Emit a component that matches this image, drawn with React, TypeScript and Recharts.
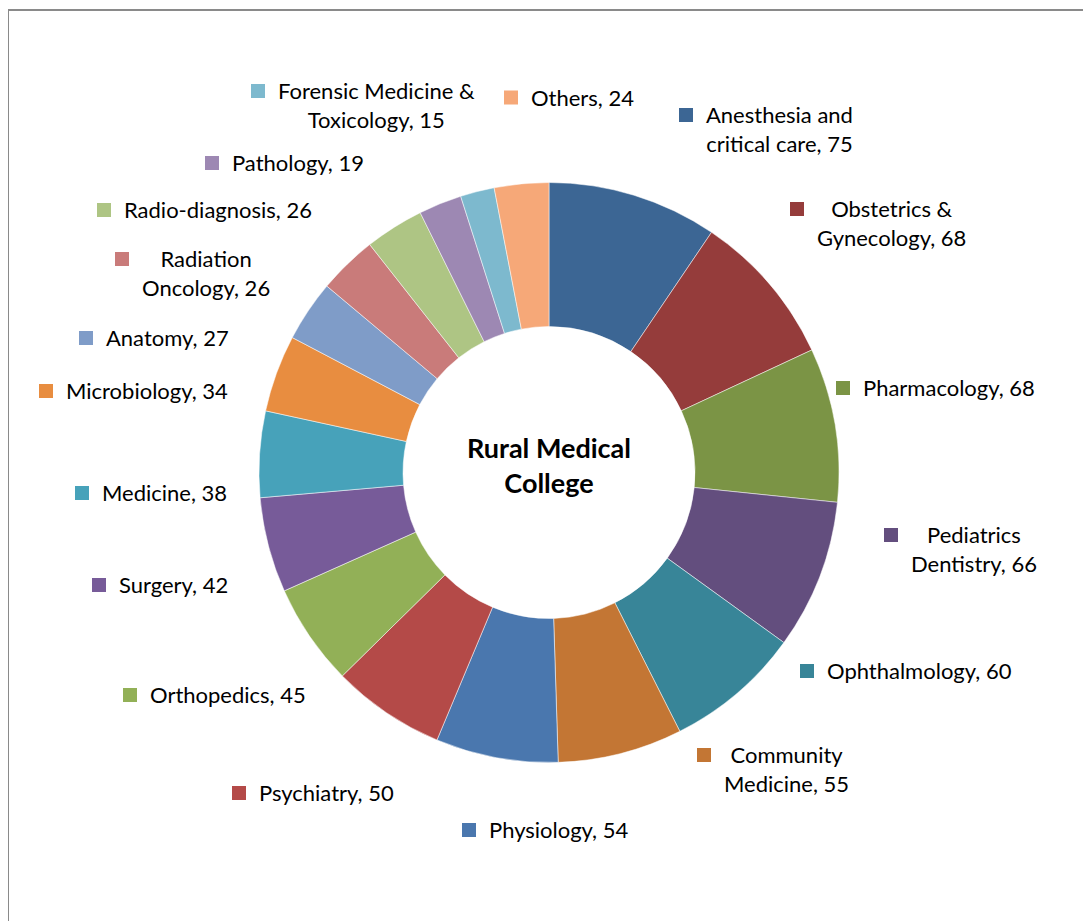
import { PieChart, Pie, Cell } from "recharts"

const departments = [
  "Anesthesia and critical care",
  "Obstetrics & Gynecology",
  "Pharmacology",
  "Pediatrics Dentistry",
  "Ophthalmology",
  "Community Medicine",
  "Physiology",
  "Psychiatry",
  "Orthopedics",
  "Surgery",
  "Medicine",
  "Microbiology",
  "Anatomy",
  "Radiation Oncology",
  "Radio-diagnosis",
  "Pathology",
  "Forensic Medicine & Toxicology",
  "Others",
]

const students = [75, 68, 68, 66, 60, 55, 54, 50, 45, 42, 38, 34, 27, 26, 26, 19, 15, 24]

const sliceColors = [
  "#3c6694", "#953c3b", "#7b9445", "#634e7e", "#388598", "#c37634",
  "#4a77ae", "#b44a48", "#92b057", "#775b99", "#47a2ba", "#e88d40",
  "#7f9cc8", "#c97b7a", "#aec584", "#9d88b3", "#7db9ce", "#f6a878",
]

const titleLines = ["Rural Medical", "College"]

// where each label's colour square sits, relative to the pie centre,
// and how many words stay on the first line (0 = no wrap)
const labelSpots: [number, number, number][] = [
  [130, -357.5, 2],
  [241, -263.5, 2],
  [287, -84.5, 0],
  [335, 62.5, 1],
  [251, 198.5, 0],
  [148, 282.5, 1],
  [-87, 357.5, 0],
  [-317, 320.5, 0],
  [-426, 222.5, 0],
  [-457, 112.5, 0],
  [-474, 20.5, 0],
  [-510, -81.5, 0],
  [-470, -134.5, 0],
  [-434, -213.5, 1],
  [-452, -262.5, 0],
  [-344, -309.5, 0],
  [-298, -381.5, 3],
  [-45, -375, 0],
]

const data = departments.map((name, i) => ({ name, value: students[i] }))

const FONT = "Lato, 'Open Sans', sans-serif"
const FONT_SIZE = 22

let ctx: CanvasRenderingContext2D | null = null
function textWidth(s: string) {
  if (!ctx) ctx = document.createElement("canvas").getContext("2d")
  if (!ctx) return s.length * FONT_SIZE * 0.5
  ctx.font = `${FONT_SIZE}px Lato`
  return ctx.measureText(s).width
}

function SliceLabel(props: any) {
  const { cx, cy, index } = props
  const name = props.payload?.name ?? props.name
  const value = props.payload?.value ?? props.value
  const [dx, dy, keep] = labelSpots[index]
  const words = `${name}, ${value}`.split(" ")
  const lines = keep ? [words.slice(0, keep).join(" "), words.slice(keep).join(" ")] : [words.join(" ")]
  const w = Math.max(...lines.map(textWidth))
  const mx = cx + dx
  const my = cy + dy
  const tx = mx + 27 + w / 2
  return (
    <g>
      <rect x={mx} y={my - 7} width={14} height={14} fill={sliceColors[index]} />
      <text x={tx} y={my + 8} textAnchor="middle" fontFamily={FONT} fontSize={FONT_SIZE} fill="#000">
        {lines.map((l, i) => (
          <tspan key={i} x={tx} dy={i ? 29 : 0}>
            {l}
          </tspan>
        ))}
      </text>
      {index === 0 && (
        <text x={cx} y={cy - 15} textAnchor="middle" fontFamily={FONT} fontWeight="bold" fontSize={27} fill="#000">
          {titleLines.map((l, i) => (
            <tspan key={i} x={cx} dy={i ? 35 : 0}>
              {l}
            </tspan>
          ))}
        </text>
      )}
    </g>
  )
}

export default function App() {
  return (
    <div
      style={{
        position: "relative",
        left: -1,
        top: 1,
        width: 1084,
        height: 913,
        boxSizing: "border-box",
        borderLeft: "2px solid #8a8a8a",
        borderTop: "2px solid #8a8a8a",
        overflow: "hidden",
        background: "#fff",
      }}
    >
      <PieChart width={1082} height={911} margin={{ top: 0, right: 0, bottom: 0, left: 0 }}>
        <Pie
          data={data}
          dataKey="value"
          nameKey="name"
          cx={540}
          cy={461.5}
          innerRadius={146}
          outerRadius={290}
          startAngle={90}
          endAngle={-270}
          stroke="#ffffff"
          strokeWidth={0.5}
          label={SliceLabel}
          labelLine={false}
          isAnimationActive={false}
        >
          {data.map((d, i) => (
            <Cell key={d.name} fill={sliceColors[i]} />
          ))}
        </Pie>
      </PieChart>
    </div>
  )
}
